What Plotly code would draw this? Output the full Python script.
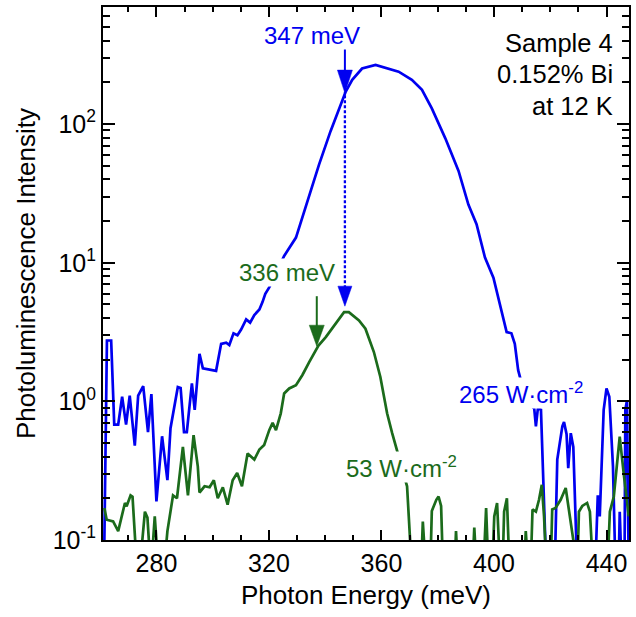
import numpy as np
import plotly.graph_objects as go

# ---------------- data ----------------
energy_265 = [261.3, 262.4, 263.9, 265.0, 266.4, 267.8, 269.2, 270.5, 272.3, 273.5,
              275.3, 277.0, 278.2, 280.0, 282.0, 283.9, 285.0, 287.6, 288.6, 289.8,
              290.8, 292.6, 293.6, 295.3, 296.5, 298.9, 301.2, 303.0, 304.8, 305.9,
              307.4, 308.8, 310.1, 311.9, 313.3, 314.8, 316.6, 317.7, 318.7, 320.1,
              325.4, 329.6, 333.7, 337.8, 341.9, 347.3, 349.6, 353.1, 357.9, 362.6,
              366.1, 370.8, 374.4, 377.9, 382.7, 387.4, 390.9, 393.8, 396.8, 399.8,
              402.7, 404.5, 406.2, 407.4, 408.6, 411.5, 414.3, 414.9, 415.6, 416.7,
              418.6, 421.6, 422.5, 424.3, 424.9, 425.8, 426.4, 427.3, 428.2, 429.6,
              436.0, 436.9, 437.6, 439.0, 440.0, 441.0, 442.3, 443.2, 444.3, 444.7,
              445.4, 446.4, 446.7, 447.3, 447.9]
pl_265 = [0.05, 2.75, 2.75, 0.68, 0.68, 1.08, 0.68, 1.10, 0.48, 1.10,
          1.29, 0.60, 1.13, 0.19, 0.56, 0.27, 0.64, 1.27, 1.25, 0.60,
          0.60, 1.35, 0.87, 2.20, 1.73, 1.70, 1.66, 2.60, 2.65, 2.55,
          3.10, 3.00, 3.30, 3.90, 3.70, 4.20, 4.60, 5.20, 5.96, 6.65,
          11.2, 15.2, 27.9, 51.0, 89.0, 172.0, 209.0, 252.0, 267.0, 252.0,
          239.0, 209.0, 177.0, 130.0, 79.0, 46.0, 26.3, 19.0, 10.9, 7.8,
          4.5, 3.16, 3.10, 2.60, 1.68, 1.00, 0.89, 0.66, 0.89, 0.87,
          0.06, 0.06, 0.38, 0.66, 0.71, 0.58, 0.33, 0.59, 0.47, 0.06,
          0.06, 0.21, 0.148, 0.87, 1.24, 1.08, 0.34, 0.06, 0.06, 0.16,
          0.06, 0.06, 0.87, 1.02, 0.06]

energy_53 = [261.5, 262.3, 264.6, 266.4, 268.8, 269.4, 270.8, 271.5, 272.9, 274.3,
             275.9, 276.8, 277.6, 278.5, 279.4, 280.3, 283.2, 283.9, 285.9, 287.3,
             289.4, 291.2, 293.2, 294.7, 295.3, 297.1, 298.9, 300.4, 301.8, 303.6,
             305.3, 307.1, 308.7, 310.4, 312.4, 314.8, 316.6, 318.3, 320.1, 321.3,
             322.5, 324.2, 325.4, 327.2, 329.6, 331.9, 334.3, 337.6, 340.2, 343.7,
             346.7, 348.4, 352.0, 354.3, 357.3, 359.6, 362.0, 363.8, 365.2, 369.1,
             369.7, 370.6, 374.3, 374.7, 375.4, 377.5, 377.9, 379.5, 380.3, 381.2,
             381.8, 386.2, 386.5, 386.9, 392.6, 393.0, 393.5, 396.5, 397.2, 397.8,
             399.6, 400.1, 401.1, 401.9, 403.2, 403.6, 404.6, 405.3, 411.0, 411.3,
             411.8, 413.3, 413.7, 414.9, 416.0, 417.0, 417.8, 418.4, 420.3, 420.7,
             421.9, 423.7, 425.5, 427.3, 428.9, 429.8, 430.2, 431.4, 433.1, 434.1,
             434.9, 440.6, 441.2, 442.6, 444.7, 446.1, 447.9]
pl_53 = [0.17, 0.14, 0.136, 0.116, 0.185, 0.175, 0.21, 0.205, 0.07, 0.07,
         0.16, 0.145, 0.08, 0.08, 0.148, 0.08, 0.08, 0.116, 0.21, 0.20,
         0.47, 0.21, 0.57, 0.34, 0.22, 0.244, 0.24, 0.27, 0.20, 0.24,
         0.18, 0.27, 0.304, 0.244, 0.42, 0.38, 0.45, 0.485, 0.62, 0.70,
         0.62, 0.82, 1.14, 1.24, 1.31, 1.55, 1.92, 2.53, 2.91, 3.63,
         4.40, 4.40, 3.84, 3.34, 2.27, 1.50, 0.82, 0.59, 0.47, 0.244,
         0.148, 0.07, 0.08, 0.136, 0.08, 0.08, 0.162, 0.195, 0.206, 0.176,
         0.07, 0.08, 0.116, 0.08, 0.08, 0.123, 0.08, 0.08, 0.17, 0.08,
         0.08, 0.148, 0.185, 0.08, 0.08, 0.16, 0.20, 0.08, 0.08, 0.116,
         0.08, 0.09, 0.166, 0.16, 0.195, 0.25, 0.148, 0.08, 0.08, 0.166,
         0.17, 0.195, 0.237, 0.14, 0.08, 0.08, 0.16, 0.176, 0.185, 0.16,
         0.08, 0.08, 0.16, 0.206, 0.557, 0.304, 0.148]

peak_labels = ["347 meV", "336 meV"]
peak_positions = [347.0, 337.0]          # where the arrows point (meV)
power_labels = ["265 W·cm<sup>-2</sup>", "53 W·cm<sup>-2</sup>"]
sample_lines = ["Sample 4", "0.152% Bi", "at 12 K"]

x_ticks = [280, 320, 360, 400, 440]
y_ticks = [0.1, 1, 10, 100]
y_ticktext = ["10<sup>-1</sup>", "10<sup>0</sup>", "10<sup>1</sup>", "10<sup>2</sup>"]

BLUE = "#0000F0"
GREEN = "#1B6B1B"
FONT = "Liberation Sans, Arial, Helvetica, sans-serif"

# ---------------- geometry ----------------
W, H = 636, 617
ML, MR, MT, MB = 103, 5, 5, 77
PW, PH = W - ML - MR, H - MT - MB
YR = [-1.0, 2.845]
PPD = PH / (YR[1] - YR[0])  # pixels per decade


def px_paper(px, py):
    return (px - ML) / PW, (H - MB - py) / PH


fig = go.Figure()
fig.add_trace(go.Scatter(x=energy_265, y=pl_265, mode="lines",
                         line=dict(color=BLUE, width=2.7), showlegend=False))
fig.add_trace(go.Scatter(x=energy_53, y=pl_53, mode="lines",
                         line=dict(color=GREEN, width=2.7), showlegend=False))

blue_at = float(np.interp(peak_positions[0], energy_265, pl_265))
green_at_b = float(np.interp(peak_positions[0], energy_53, pl_53))
green_at_g = float(np.interp(peak_positions[1], energy_53, pl_53))

shapes = []


def pix_path(xa, ya, path, color, fill=True, width=0, dash=None):
    d = dict(type="path", xref="x", yref="y", xsizemode="pixel", ysizemode="pixel",
             xanchor=xa, yanchor=ya, path=path,
             line=dict(color=color, width=width))
    if dash:
        d["line"]["dash"] = dash
    if fill:
        d["fillcolor"] = color
    return d


# blue arrow onto the 265 W/cm2 curve
shapes.append(pix_path(peak_positions[0], blue_at, "M0,22 L0,46", BLUE, fill=False, width=2))
shapes.append(pix_path(peak_positions[0], blue_at, "M0,0 L-7.5,23 L7.5,23 Z", BLUE, width=0.5))
# dotted line down to the 53 W/cm2 peak
gap_px = (np.log10(blue_at) - np.log10(green_at_b)) * PPD
shapes.append(pix_path(peak_positions[0], green_at_b, f"M0,24 L0,{gap_px:.1f}", BLUE,
                       fill=False, width=2.3, dash="3px,2px"))
shapes.append(pix_path(peak_positions[0], green_at_b, "M0,6 L-7,26 L7,26 Z", BLUE, width=0.5))
# green arrow
shapes.append(pix_path(peak_positions[1], green_at_g, "M0,22 L0,52", GREEN, fill=False, width=2))
shapes.append(pix_path(peak_positions[1], green_at_g, "M0,2 L-7.5,23 L7.5,23 Z", GREEN, width=0.5))

annotations = []


def label(text, px, py, color, size, xanchor="center", bg=None):
    x, y = px_paper(px, py)
    a = dict(text=text, x=x, y=y, xref="paper", yref="paper", showarrow=False,
             xanchor=xanchor, yanchor="middle", font=dict(family=FONT, size=size, color=color),
             borderpad=0)
    if bg:
        a["bgcolor"] = bg
    annotations.append(a)


label(peak_labels[0], 312.5, 34, BLUE, 24, bg="white")
label(peak_labels[1], 288, 271, GREEN, 24, bg="white")
label(power_labels[0], 523, 392, BLUE, 24, bg="white")
label(power_labels[1], 402.5, 467, GREEN, 24, bg="white")
for txt, py in zip(sample_lines, [41, 72.5, 104]):
    label(txt, 616, py, "black", 25.5, xanchor="right")

fig.update_layout(
    width=W, height=H,
    margin=dict(l=ML, r=MR, t=MT, b=MB),
    paper_bgcolor="white", plot_bgcolor="white",
    font=dict(family=FONT, size=25, color="black"),
    shapes=shapes, annotations=annotations, showlegend=False,
)
fig.update_xaxes(
    range=[261, 448], tickmode="array", tickvals=x_ticks,
    ticks="inside", ticklen=10, tickwidth=2, tickcolor="black",
    showline=True, linewidth=2, linecolor="black", mirror="ticks",
    showgrid=False, zeroline=False, tickfont=dict(size=25),
    minor=dict(dtick=10, tick0=260, ticks="inside", ticklen=5, tickwidth=2,
               tickcolor="black", showgrid=False),
    title=dict(text="Photon Energy (meV)", font=dict(size=26), standoff=10),
)
fig.update_yaxes(
    type="log", range=YR, tickmode="array", tickvals=y_ticks, ticktext=y_ticktext,
    ticks="inside", ticklen=12, tickwidth=2, tickcolor="black",
    showline=True, linewidth=2, linecolor="black", mirror="ticks",
    showgrid=False, zeroline=False, tickfont=dict(size=25),
    minor=dict(dtick="D1", ticks="inside", ticklen=7, tickwidth=2,
               tickcolor="black", showgrid=False),
    title=dict(text="Photoluminescence Intensity", font=dict(size=26), standoff=10),
)

fig.write_html("out.html")
